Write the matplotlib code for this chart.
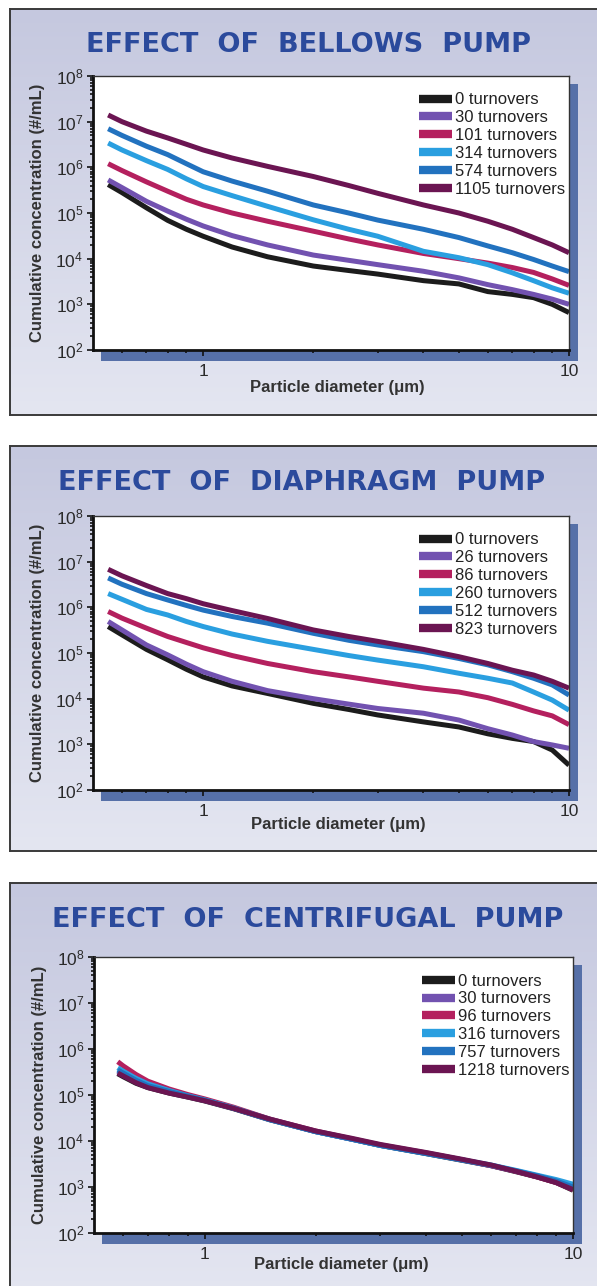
import numpy as np
import matplotlib
matplotlib.use('Agg')
import matplotlib.pyplot as plt
from matplotlib.lines import Line2D
from matplotlib.patches import Rectangle
from matplotlib.colors import LinearSegmentedColormap
from matplotlib.ticker import FixedLocator, NullFormatter, FuncFormatter, LogLocator

plt.rcParams['font.family'] = ['Liberation Sans', 'DejaVu Sans']

# ---- data ----
colors = ['#1c1c1c', '#7252b0', '#b4205e', '#2a9fe0', '#2272bf', '#6b1552']

x_bellows = [0.55, 0.6, 0.7, 0.8, 0.9, 1.0, 1.2, 1.5, 2, 2.5, 3, 4, 5, 6, 7, 8, 9, 10]
bellows_labels = ['0 turnovers', '30 turnovers', '101 turnovers', '314 turnovers',
                  '574 turnovers', '1105 turnovers']
bellows_0 = [4.2e5, 2.8e5, 1.3e5, 6.9e4, 4.4e4, 3.1e4, 1.8e4, 1.1e4, 6.9e3, 5.5e3,
             4.6e3, 3.3e3, 2.8e3, 1.9e3, 1.65e3, 1.4e3, 1.0e3, 6.6e2]
bellows_30 = [5.3e5, 3.6e5, 1.8e5, 1.1e5, 7.3e4, 5.2e4, 3.2e4, 2.0e4, 1.2e4, 9.2e3,
              7.4e3, 5.3e3, 3.8e3, 2.7e3, 2.1e3, 1.65e3, 1.3e3, 1.0e3]
bellows_101 = [1.2e6, 8.5e5, 4.8e5, 3.0e5, 2.0e5, 1.5e5, 1.0e5, 6.6e4, 4.0e4, 2.7e4,
               2.0e4, 1.3e4, 1.0e4, 8.0e3, 6.4e3, 5.0e3, 3.6e3, 2.6e3]
bellows_314 = [3.4e6, 2.4e6, 1.4e6, 9.0e5, 5.6e5, 3.8e5, 2.4e5, 1.4e5, 7.1e4, 4.4e4,
               3.1e4, 1.45e4, 1.05e4, 7.4e3, 4.9e3, 3.3e3, 2.3e3, 1.75e3]
bellows_574 = [7.0e6, 5.0e6, 2.9e6, 1.9e6, 1.2e6, 8.0e5, 5.0e5, 3.0e5, 1.5e5, 1.0e5,
               7.0e4, 4.4e4, 2.9e4, 1.9e4, 1.35e4, 9.6e3, 6.9e3, 5.2e3]
bellows_1105 = [1.4e7, 1.0e7, 6.2e6, 4.4e6, 3.2e6, 2.4e6, 1.6e6, 1.05e6, 6.3e5, 4.0e5,
                2.7e5, 1.5e5, 1.0e5, 6.6e4, 4.4e4, 2.9e4, 2.0e4, 1.35e4]

x_diaphragm = [0.55, 0.6, 0.7, 0.8, 0.9, 1.0, 1.2, 1.5, 2, 2.5, 3, 4, 5, 6, 7, 8, 9, 10]
diaphragm_labels = ['0 turnovers', '26 turnovers', '86 turnovers', '260 turnovers',
                    '512 turnovers', '823 turnovers']
diaphragm_0 = [3.8e5, 2.5e5, 1.2e5, 7.1e4, 4.4e4, 3.0e4, 1.9e4, 1.3e4, 7.9e3, 5.8e3,
               4.4e3, 3.1e3, 2.4e3, 1.7e3, 1.35e3, 1.15e3, 7.5e2, 3.5e2]
diaphragm_26 = [4.9e5, 3.2e5, 1.5e5, 9.1e4, 5.7e4, 3.9e4, 2.4e4, 1.5e4, 1.0e4, 7.6e3,
                6.1e3, 4.8e3, 3.4e3, 2.2e3, 1.6e3, 1.15e3, 9.7e2, 8.2e2]
diaphragm_86 = [8.1e5, 5.8e5, 3.5e5, 2.3e5, 1.7e5, 1.3e5, 8.8e4, 5.9e4, 3.9e4, 3.0e4,
                2.4e4, 1.7e4, 1.4e4, 1.05e4, 7.5e3, 5.4e3, 4.2e3, 2.7e3]
diaphragm_260 = [2.0e6, 1.5e6, 9.0e5, 6.8e5, 4.9e5, 3.8e5, 2.6e5, 1.8e5, 1.2e5, 8.8e4,
                 7.0e4, 5.0e4, 3.6e4, 2.8e4, 2.2e4, 1.4e4, 9.3e3, 5.6e3]
diaphragm_512 = [4.4e6, 3.2e6, 2.0e6, 1.45e6, 1.1e6, 8.7e5, 6.3e5, 4.5e5, 2.7e5, 1.9e5,
                 1.5e5, 1.07e5, 7.6e4, 5.5e4, 3.9e4, 2.8e4, 2.0e4, 1.2e4]
diaphragm_823 = [6.8e6, 4.9e6, 3.0e6, 2.0e6, 1.55e6, 1.2e6, 8.5e5, 5.7e5, 3.2e5, 2.3e5,
                 1.8e5, 1.2e5, 8.3e4, 5.9e4, 4.2e4, 3.3e4, 2.4e4, 1.7e4]

x_centrifugal = [0.58, 0.6, 0.65, 0.7, 0.8, 0.9, 1.0, 1.2, 1.5, 2, 2.5, 3, 4, 5, 6, 7, 8, 9, 10]
centrifugal_labels = ['0 turnovers', '30 turnovers', '96 turnovers', '316 turnovers',
                      '757 turnovers', '1218 turnovers']
centrifugal_0 = [2.9e5, 2.5e5, 1.8e5, 1.45e5, 1.1e5, 9.0e4, 7.4e4, 5.0e4, 2.9e4, 1.6e4,
                 1.1e4, 8.0e3, 5.3e3, 3.8e3, 2.9e3, 2.15e3, 1.65e3, 1.25e3, 8.5e2]
centrifugal_30 = [3.3e5, 2.8e5, 2.0e5, 1.55e5, 1.15e5, 9.2e4, 7.6e4, 5.1e4, 2.95e4, 1.6e4,
                  1.1e4, 8.1e3, 5.4e3, 3.9e3, 2.9e3, 2.2e3, 1.7e3, 1.3e3, 9.0e2]
centrifugal_96 = [5.3e5, 4.3e5, 2.8e5, 2.0e5, 1.35e5, 1.02e5, 8.2e4, 5.4e4, 3.0e4, 1.65e4,
                  1.12e4, 8.2e3, 5.5e3, 3.9e3, 2.9e3, 2.2e3, 1.65e3, 1.25e3, 8.8e2]
centrifugal_316 = [3.9e5, 3.3e5, 2.3e5, 1.75e5, 1.25e5, 9.6e4, 7.8e4, 5.2e4, 2.95e4, 1.6e4,
                   1.1e4, 8.0e3, 5.4e3, 3.9e3, 3.0e3, 2.3e3, 1.8e3, 1.45e3, 1.15e3]
centrifugal_757 = [3.5e5, 3.0e5, 2.1e5, 1.6e5, 1.2e5, 9.4e4, 7.7e4, 5.1e4, 2.9e4, 1.6e4,
                   1.1e4, 8.0e3, 5.3e3, 3.85e3, 2.95e3, 2.25e3, 1.75e3, 1.35e3, 1.0e3]
centrifugal_1218 = [3.0e5, 2.6e5, 1.85e5, 1.45e5, 1.1e5, 9.0e4, 7.5e4, 5.1e4, 3.0e4, 1.65e4,
                    1.15e4, 8.4e3, 5.6e3, 4.0e3, 3.0e3, 2.2e3, 1.65e3, 1.25e3, 8.8e2]

W, H = 597, 1286
fig = plt.figure(figsize=(W / 100, H / 100), dpi=100)
fig.patch.set_facecolor('white')


def fx(px):
    return px / W


def fy(py):
    return 1 - py / H


bg_cmap = LinearSegmentedColormap.from_list('bg', ['#c5c8df', '#e4e6f1'])

panels = [
    dict(title='EFFECT  OF  BELLOWS  PUMP', x=x_bellows, labels=bellows_labels,
         ys=[bellows_0, bellows_30, bellows_101, bellows_314, bellows_574, bellows_1105],
         box=(9, 415), plot=(93, 76, 569, 350), title_xy=(308, 45),
         ylab_xy=(38, 213), xlab_xy=(337, 387)),
    dict(title='EFFECT  OF  DIAPHRAGM  PUMP', x=x_diaphragm, labels=diaphragm_labels,
         ys=[diaphragm_0, diaphragm_26, diaphragm_86, diaphragm_260, diaphragm_512,
             diaphragm_823],
         box=(446, 851), plot=(93, 516, 569, 790), title_xy=(302, 483),
         ylab_xy=(38, 653), xlab_xy=(338, 824)),
    dict(title='EFFECT  OF  CENTRIFUGAL  PUMP', x=x_centrifugal, labels=centrifugal_labels,
         ys=[centrifugal_0, centrifugal_30, centrifugal_96, centrifugal_316,
             centrifugal_757, centrifugal_1218],
         box=(883, 1295), plot=(94, 957, 573, 1233), title_xy=(308, 920),
         ylab_xy=(40, 1095), xlab_xy=(341, 1265)),
]

for p in panels:
    # grey-lavender panel behind the chart
    top, bot = p['box']
    bg = fig.add_axes([fx(10), fy(bot), 1.0, (bot - top) / H])
    bg.set_zorder(-3)
    grad = np.linspace(0, 1, 256).reshape(-1, 1)
    bg.imshow(grad, aspect='auto', cmap=bg_cmap, extent=[0, 1, 0, 1])
    bg.set_xlim(0, 1)
    bg.set_ylim(0, 1)
    bg.set_xticks([])
    bg.set_yticks([])
    for s in bg.spines.values():
        s.set_color('#3a3a3a')
        s.set_linewidth(1.4)

    l, t, r, b = p['plot']
    # blue drop shadow
    fig.add_artist(Rectangle((fx(l + 8), fy(b + 11)), (r - l + 1) / W, (b - t + 3) / H,
                             transform=fig.transFigure, facecolor='#5670a8',
                             edgecolor='none', zorder=-1))

    ax = fig.add_axes([fx(l), fy(b), (r - l) / W, (b - t) / H])
    ax.set_facecolor('white')
    for ys, c in zip(p['ys'], colors):
        ax.plot(p['x'], ys, color=c, lw=3.6, solid_joinstyle='round',
                solid_capstyle='butt')
    ax.set_xscale('log')
    ax.set_yscale('log')
    ax.set_xlim(0.5, 10)
    ax.set_ylim(1e2, 1e8)

    ax.xaxis.set_major_locator(FixedLocator([1, 10]))
    ax.xaxis.set_major_formatter(FuncFormatter(lambda v, pos: '%d' % round(v)))
    ax.xaxis.set_minor_locator(FixedLocator([0.6, 0.7, 0.8, 0.9, 2, 3, 4, 5, 6, 7, 8, 9]))
    ax.xaxis.set_minor_formatter(NullFormatter())
    ax.yaxis.set_major_locator(FixedLocator([1e2, 1e3, 1e4, 1e5, 1e6, 1e7, 1e8]))
    ax.yaxis.set_major_formatter(FuncFormatter(
        lambda v, pos: r'$\mathregular{10^{%d}}$' % round(np.log10(v))))
    ax.yaxis.set_minor_locator(LogLocator(base=10, subs=np.arange(2, 10), numticks=20))
    ax.yaxis.set_minor_formatter(NullFormatter())
    ax.tick_params(which='both', direction='out', color='#111', width=1.2)
    ax.tick_params(which='major', length=4, labelsize=12.5, labelcolor='#2a2a2a')
    ax.tick_params(which='minor', length=2.5)
    ax.tick_params(axis='x', which='major', pad=6)
    ax.tick_params(axis='y', which='major', pad=3)

    for side in ['left', 'bottom']:
        ax.spines[side].set_linewidth(2)
        ax.spines[side].set_color('#111')
    for side in ['top', 'right']:
        ax.spines[side].set_linewidth(1)
        ax.spines[side].set_color('#333')

    handles = [Line2D([0], [0], color=c, lw=6, solid_capstyle='butt') for c in colors]
    leg = ax.legend(handles, p['labels'], loc='upper left', bbox_to_anchor=(0.685, 0.94),
                    frameon=False, fontsize=12, handlelength=2.0, handletextpad=0.15,
                    labelspacing=0.17, borderaxespad=0, borderpad=0)
    for txt in leg.get_texts():
        txt.set_color('#222')

    fig.text(fx(p['title_xy'][0]), fy(p['title_xy'][1]), p['title'], ha='center',
             va='center', fontsize=19.5, fontweight='bold', color='#2b4a9c',
             family='DejaVu Sans')
    fig.text(fx(p['ylab_xy'][0]), fy(p['ylab_xy'][1]), 'Cumulative concentration (#/mL)',
             rotation=90, ha='center', va='center', fontsize=12, fontweight='bold',
             color='#333')
    fig.text(fx(p['xlab_xy'][0]), fy(p['xlab_xy'][1]), 'Particle diameter (\u03bcm)',
             ha='center', va='center', fontsize=12, fontweight='bold', color='#333')

fig.savefig('out.png', dpi=100, facecolor='white')
